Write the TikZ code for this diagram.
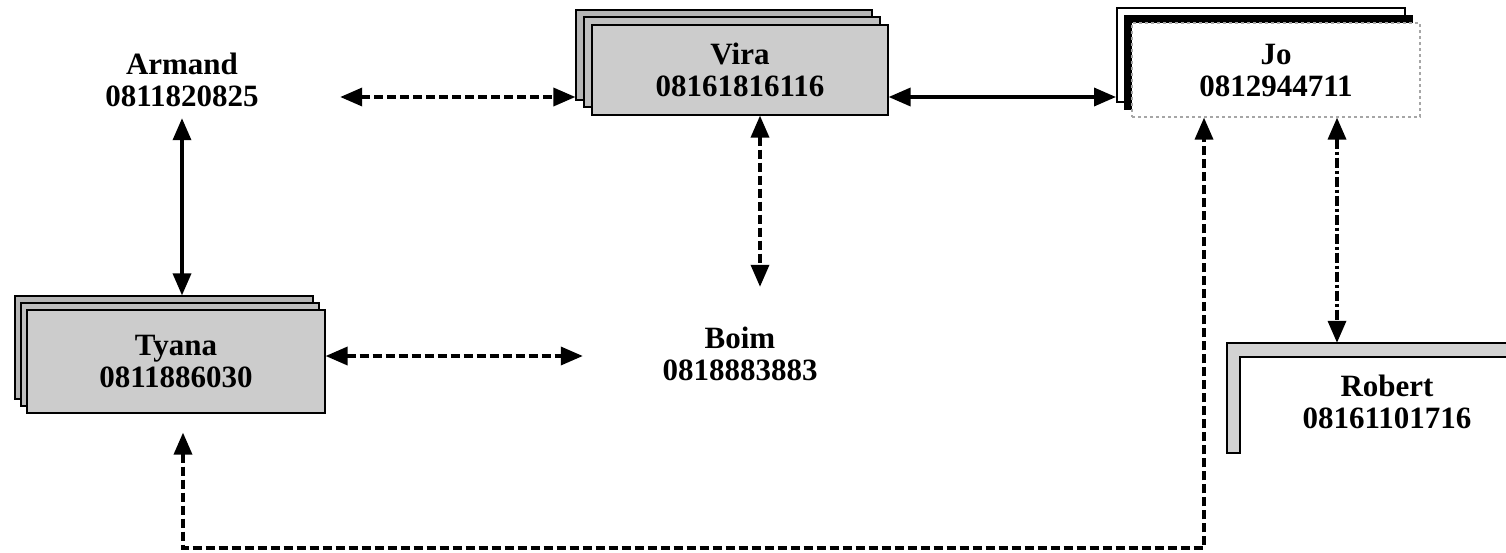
\documentclass[tikz,border=0pt]{standalone}
\usepackage{fontspec}
\setmainfont{Liberation Serif}
\usetikzlibrary{arrows.meta}
\begin{document}
\begin{tikzpicture}[x=1pt,y=-1pt,
  lbl/.style={font=\fontsize{31}{32}\selectfont\bfseries, align=center, inner sep=0pt, text=black},
  ghost/.style={lbl, rectangle, minimum width=#1},
  layer/.style={rectangle, draw=black, line width=1.2pt, inner sep=0pt},
  vbox/.style={layer, minimum width=296pt, minimum height=90pt},
  tbox/.style={layer, minimum width=298pt, minimum height=103pt},
  jbox/.style={layer, minimum width=288pt, minimum height=94pt},
  arr/.style={line width=3.5pt, {Triangle[length=22pt,width=18pt]}-{Triangle[length=22pt,width=18pt]}},
  dsh/.style={dash pattern=on 9pt off 4pt},
  dshdot/.style={dash pattern=on 10pt off 3pt on 3pt off 3pt}]
\useasboundingbox (0,0) rectangle (1506,552);
\fill[white] (0,0) rectangle (1506,552);

% Armand (no frame)
\node[ghost=316pt, minimum height=76pt] (armand) at (182,80) {Armand\\0811820825};

% Vira stack
\node[vbox, fill=gray!58] (vira3) at (724,55) {};
\node[vbox, fill=gray!50] (vira2) at (732,62) {};
\node[vbox, lbl, fill=gray!40] (vira) at (740,70) {Vira\\08161816116};

% Jo stack
\node[jbox, fill=white, line width=2pt] (jo3) at (1261,55) {};
\node[jbox, fill=black] (jo2) at (1268.5,62.5) {};
\node[jbox, lbl, fill=white, draw=gray!70, dashed, line width=1.2pt] (jo) at (1276,70) {Jo\\0812944711};

% Tyana stack
\node[tbox, fill=gray!58] (tyana3) at (164,347.5) {};
\node[tbox, fill=gray!50] (tyana2) at (170,354.5) {};
\node[tbox, lbl, fill=gray!40] (tyana) at (176,361.5) {Tyana\\0811886030};

% Boim (no frame)
\node[ghost=314pt, minimum height=134pt] (boim) at (740,354) {Boim\\0818883883};

% Robert with L-shaped frame
\fill[gray!35, draw=black, line width=1.5pt] (1227,343) -- (1512,343) -- (1512,357) -- (1240,357) -- (1240,453) -- (1227,453) -- cycle;
\node[ghost=320pt, minimum height=118pt] (robert) at (1387,402) {Robert\\08161101716};

% connectors
\coordinate (r1) at (0,97);
\coordinate (ytb) at (0,356);
\coordinate (xvb) at (760,0);
\coordinate (xjr) at (1337,0);
\coordinate (bl) at (183,548);
\coordinate (br) at (1204,548);

\draw[arr, dsh] (armand.east |- r1) -- (vira3.west |- r1);
\draw[arr] (vira.east |- r1) -- (jo3.west |- r1);
\draw[arr] (armand.south) -- (tyana3.north -| armand.south);
\draw[arr, dsh] (vira.south -| xvb) -- (boim.north -| xvb);
\draw[arr, dsh] (tyana.east |- ytb) -- (boim.west |- ytb);
\draw[arr, dshdot] (jo.south -| xjr) -- (robert.north -| xjr);
\draw[arr, dsh, shorten <=19pt] (tyana.south -| bl) -- (bl) -- (br) -- (jo.south -| br);
\end{tikzpicture}
\end{document}
